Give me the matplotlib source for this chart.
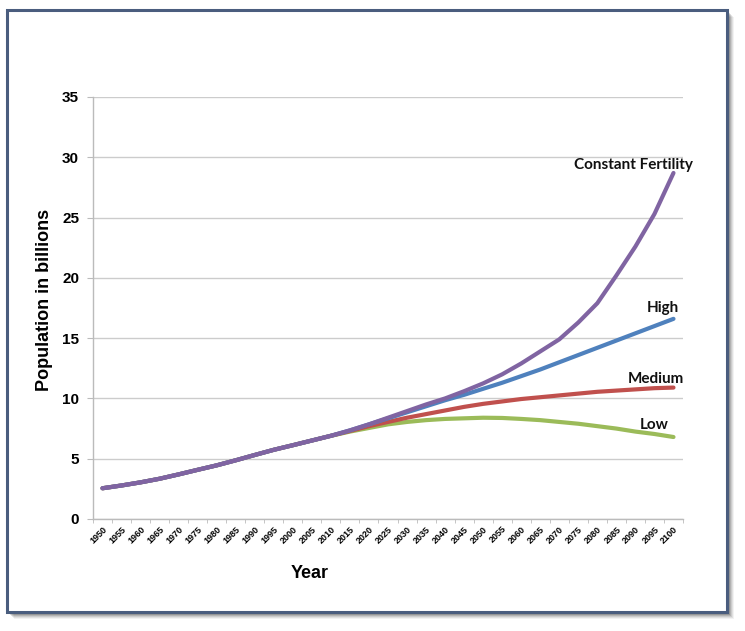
import matplotlib
matplotlib.use("Agg")
import matplotlib.pyplot as plt
from matplotlib.patches import Rectangle

years = [str(y) for y in range(1950, 2101, 5)]

# 1950-2010 shared history, then the four variants from 2015
history = [2.55, 2.78, 3.04, 3.34, 3.70, 4.08, 4.45, 4.87, 5.31, 5.74, 6.12, 6.51, 6.90]
low = [7.25, 7.55, 7.85, 8.05, 8.2, 8.3, 8.35, 8.4, 8.38, 8.3, 8.2, 8.05, 7.9, 7.7, 7.5, 7.25, 7.05, 6.8]
medium = [7.3, 7.7, 8.05, 8.4, 8.7, 9.0, 9.3, 9.55, 9.75, 9.95, 10.1, 10.25, 10.4, 10.55, 10.65, 10.75, 10.85, 10.9]
high = [7.35, 7.85, 8.35, 8.85, 9.35, 9.85, 10.3, 10.8, 11.3, 11.85, 12.4, 13.0, 13.6, 14.2, 14.8, 15.4, 16.0, 16.6]
constant = [7.35, 7.85, 8.4, 8.95, 9.5, 10.0, 10.6, 11.25, 12.0, 12.9, 13.9, 14.9, 16.3, 17.9, 20.2, 22.6, 25.3, 28.7]

series = [
    ("Low", low, "#9BBB59"),
    ("Medium", medium, "#C0504D"),
    ("High", high, "#4F81BD"),
    ("Constant Fertility", constant, "#8064A2"),
]
label_pos = {
    "Constant Fertility": (27.9, 29.4),
    "High": (29.45, 17.5),
    "Medium": (29.1, 11.6),
    "Low": (29.0, 7.8),
}

fig = plt.figure(figsize=(7.45, 6.31), dpi=100)
fig.patch.set_facecolor("white")

# framed card with a soft shadow
fw, fh = 745, 631
x0, y0, x1, y1 = 7, 10, 727, 612
for k, a in [(7, 0.05), (6, 0.07), (5, 0.09), (4, 0.12), (3, 0.15)]:
    fig.patches.append(Rectangle(((x0 + k) / fw, 1 - (y1 + k) / fh), (x1 - x0) / fw, (y1 - y0) / fh,
                                 transform=fig.transFigure, facecolor="black", alpha=a,
                                 edgecolor="none", zorder=0))
fig.patches.append(Rectangle((x0 / fw, 1 - y1 / fh), (x1 - x0) / fw, (y1 - y0) / fh,
                             transform=fig.transFigure, facecolor="white",
                             edgecolor="#4A5D7E", linewidth=2.2, zorder=1))

ax = fig.add_axes([93 / fw, 1 - 519 / fh, 590 / fw, 422 / fh])
ax.set_zorder(2)
ax.patch.set_alpha(0)

x = list(range(len(years)))
for name, vals, color in series:
    ys = history + vals
    ax.plot(x, ys, color=color, linewidth=3.0, solid_capstyle="round")
    tx, ty = label_pos[name]
    ax.text(tx, ty, name, ha="center", va="center", fontsize=11, fontweight="bold",
            family="Lato", color="#111111")

ax.set_xlim(-0.5, len(years) - 0.5)
ax.set_ylim(0, 35)
ax.set_yticks(range(0, 36, 5))
ax.set_xticks(x)
ax.set_xticklabels(years, rotation=45, ha="right", rotation_mode="anchor",
                   fontsize=6.5, fontweight="bold", family="Liberation Sans")
ax.set_xticks([i + 0.5 for i in range(-1, len(years))], minor=True)
for lab in ax.get_yticklabels():
    lab.set_fontsize(11)
    lab.set_fontweight("bold")
    lab.set_family("Liberation Sans")

ax.tick_params(axis="x", which="major", length=0, pad=4)
ax.tick_params(axis="x", which="minor", length=3, color="#BBBBBB")
ax.tick_params(axis="y", length=4, color="#BBBBBB", pad=6)

ax.grid(axis="y", color="#CCCCCC", linewidth=1)
ax.set_axisbelow(True)
for s in ["top", "right"]:
    ax.spines[s].set_visible(False)
for s in ["left", "bottom"]:
    ax.spines[s].set_color("#BBBBBB")
    ax.spines[s].set_linewidth(1)

ax.set_xlabel("Year", fontsize=13, fontweight="bold", family="Liberation Sans")
ax.xaxis.set_label_coords((310 - 93) / 590, -0.11)
ax.set_ylabel("Population in billions", fontsize=13, fontweight="bold", family="Liberation Sans")
ax.yaxis.set_label_coords(-0.068, 0.52)

fig.savefig("out.png", dpi=100)
